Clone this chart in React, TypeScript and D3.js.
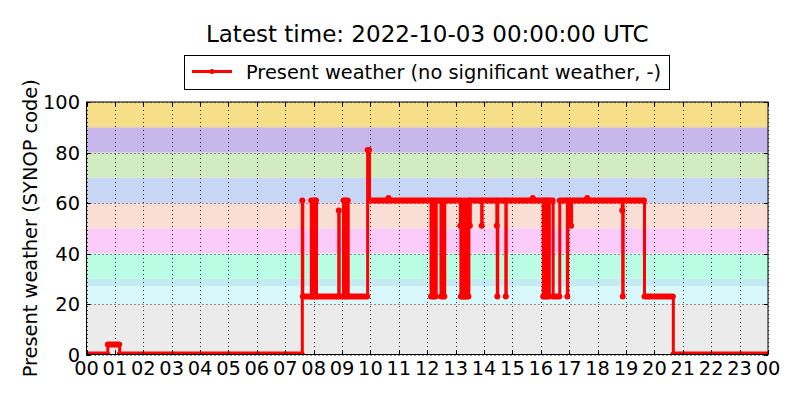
import React, { useEffect, useRef } from 'react';
import * as d3 from 'd3';

const TITLE = 'Latest time: 2022-10-03 00:00:00 UTC';
const SERIES_LABEL = 'Present weather (no significant weather, -)';
const Y_LABEL = 'Present weather (SYNOP code)';
const DAY_START = '2022-10-02T00:00:00Z';
const DAY_END = '2022-10-03T00:00:00Z';

// observed code changes (UTC), each code is held until the next entry
const obsTimes = [
  '00:00', '00:45', '01:10',
  '07:36', '07:37',
  '07:55', '07:56', '07:59', '08:00', '08:02', '08:04', '08:05', '08:06',
  '08:53', '08:54',
  '09:03', '09:05', '09:07', '09:09', '09:11', '09:13',
  '09:54', '09:58',
  '10:38', '10:39',
  '12:08', '12:10', '12:12', '12:14', '12:16', '12:19',
  '12:29', '12:32', '12:34', '12:37',
  '13:10', '13:11', '13:13', '13:14', '13:16', '13:17', '13:19', '13:20',
  '13:22', '13:23', '13:25', '13:26', '13:28', '13:29', '13:30', '13:31',
  '13:55', '13:56',
  '14:27', '14:28', '14:29',
  '14:46', '14:47',
  '15:43', '15:44',
  '16:05', '16:07', '16:08', '16:10', '16:13', '16:15', '16:16', '16:18',
  '16:26', '16:40',
  '16:56', '16:57', '17:03', '17:05',
  '17:38', '17:39',
  '18:52', '18:53', '18:54',
  '19:39', '20:40',
];
const obsCodes = [
  0, 4, 0,
  61, 23,
  61, 23, 61, 23, 61, 23, 61, 23,
  57, 23,
  61, 23, 61, 23, 61, 23,
  81, 61,
  62, 61,
  23, 61, 23, 61, 23, 61,
  23, 61, 23, 61,
  51, 23, 61, 23, 51, 23, 61, 23,
  51, 23, 61, 23, 51, 61, 51, 61,
  51, 61,
  51, 23, 61,
  23, 61,
  62, 61,
  23, 61, 23, 61, 23, 61, 23, 61,
  23, 61,
  23, 61, 51, 61,
  62, 61,
  57, 23, 61,
  23, 0,
];

// background bands of the SYNOP code groups
const bandLimits = [0, 20, 27, 30, 40, 50, 60, 70, 80, 90, 100];
const bandColors = [
  '#ebebeb', '#d9f8fc', '#c4ebf1', '#bafde4', '#facbf9',
  '#f8ded4', '#c8d6f5', '#d3ebc0', '#c8b7eb', '#f7de89',
];

const yTicks = [0, 20, 40, 60, 80, 100];

const W = 800;
const H = 400;
const FONT = '"DejaVu Sans", sans-serif';

const App: React.FC = () => {
  const svgRef = useRef<SVGSVGElement>(null);

  useEffect(() => {
    if (!svgRef.current) return;
    const svg = d3.select(svgRef.current);
    svg.selectAll('*').remove();

    const left = 86.5;
    const right = 768;
    const top = 102;
    const bottom = 354.5;

    const start = new Date(DAY_START);
    const end = new Date(DAY_END);
    const x = d3.scaleUtc().domain([start, end]).range([left, right]);
    const y = d3.scaleLinear().domain([0, 100]).range([bottom, top]);

    const toDate = (t: string) => new Date(`2022-10-02T${t}:00Z`);
    const points: [Date, number][] = obsTimes.map((t, i) => [toDate(t), obsCodes[i]]);
    const withEnd: [Date, number][] = [...points, [end, obsCodes[obsCodes.length - 1]]];

    svg.append('defs')
      .append('clipPath')
      .attr('id', 'plot-clip')
      .append('rect')
      .attr('x', left)
      .attr('y', top)
      .attr('width', right - left)
      .attr('height', bottom - top);

    // bands
    svg.append('g')
      .selectAll('rect')
      .data(bandColors)
      .enter()
      .append('rect')
      .attr('x', left)
      .attr('width', right - left)
      .attr('y', (_, i) => y(bandLimits[i + 1]))
      .attr('height', (_, i) => y(bandLimits[i]) - y(bandLimits[i + 1]))
      .attr('fill', d => d);

    // grid
    const hours = d3.utcHour.range(start, new Date(end.getTime() + 1));
    const grid = svg.append('g')
      .attr('stroke', '#000')
      .attr('stroke-width', 0.8)
      .attr('stroke-dasharray', '1,3');
    grid.selectAll('line.v')
      .data(hours)
      .enter()
      .append('line')
      .attr('class', 'v')
      .attr('x1', d => Math.round(x(d)) + 0.5)
      .attr('x2', d => Math.round(x(d)) + 0.5)
      .attr('y1', top)
      .attr('y2', bottom);
    grid.selectAll('line.h')
      .data(yTicks)
      .enter()
      .append('line')
      .attr('class', 'h')
      .attr('x1', left)
      .attr('x2', right)
      .attr('y1', d => Math.round(y(d)) + 0.5)
      .attr('y2', d => Math.round(y(d)) + 0.5);

    // series
    const plot = svg.append('g').attr('clip-path', 'url(#plot-clip)');
    const line = d3.line<[Date, number]>()
      .curve(d3.curveStepAfter)
      .x(d => x(d[0]))
      .y(d => y(d[1]));
    plot.append('path')
      .datum(withEnd)
      .attr('d', line)
      .attr('fill', 'none')
      .attr('stroke', '#ff0000')
      .attr('stroke-width', 3);
    // dense minute markers along each held code
    plot.selectAll('line.hold')
      .data(points)
      .enter()
      .append('line')
      .attr('class', 'hold')
      .attr('x1', d => x(d[0]))
      .attr('x2', (_, i) => Math.max(x(d3.utcMinute.offset(withEnd[i + 1][0], -1)), x(points[i][0])))
      .attr('y1', d => y(d[1]))
      .attr('y2', d => y(d[1]))
      .attr('stroke', '#ff0000')
      .attr('stroke-width', 6)
      .attr('stroke-linecap', 'round');

    // frame and ticks
    svg.append('rect')
      .attr('x', left)
      .attr('y', top)
      .attr('width', right - left)
      .attr('height', bottom - top)
      .attr('fill', 'none')
      .attr('stroke', '#000')
      .attr('stroke-width', 1);
    const ticks = svg.append('g').attr('stroke', '#000').attr('stroke-width', 1);
    hours.forEach(h => {
      const px = Math.round(x(h)) + 0.5;
      ticks.append('line').attr('x1', px).attr('x2', px).attr('y1', bottom).attr('y2', bottom - 4);
      ticks.append('line').attr('x1', px).attr('x2', px).attr('y1', top).attr('y2', top + 4);
    });
    yTicks.forEach(v => {
      const py = Math.round(y(v)) + 0.5;
      ticks.append('line').attr('x1', left).attr('x2', left + 4).attr('y1', py).attr('y2', py);
      ticks.append('line').attr('x1', right).attr('x2', right - 4).attr('y1', py).attr('y2', py);
    });

    // tick labels
    const fmt = d3.utcFormat('%H');
    svg.append('g')
      .selectAll('text')
      .data(hours)
      .enter()
      .append('text')
      .attr('x', d => x(d))
      .attr('y', bottom + 20.5)
      .attr('text-anchor', 'middle')
      .style('font-family', FONT)
      .style('font-size', '19.4px')
      .text(d => fmt(d));
    svg.append('g')
      .selectAll('text')
      .data(yTicks)
      .enter()
      .append('text')
      .attr('x', left - 6.5)
      .attr('y', d => y(d) + 7)
      .attr('text-anchor', 'end')
      .style('font-family', FONT)
      .style('font-size', '19.4px')
      .text(d => d);

    svg.append('text')
      .attr('transform', `translate(37,${(top + bottom) / 2}) rotate(-90)`)
      .attr('text-anchor', 'middle')
      .style('font-family', FONT)
      .style('font-size', '19.4px')
      .text(Y_LABEL);

    svg.append('text')
      .attr('x', (left + right) / 2)
      .attr('y', 42)
      .attr('text-anchor', 'middle')
      .style('font-family', FONT)
      .style('font-size', '23px')
      .text(TITLE);

    // legend
    const lg = svg.append('g');
    lg.append('rect')
      .attr('x', 184.5)
      .attr('y', 55.5)
      .attr('width', 485)
      .attr('height', 34)
      .attr('fill', '#fff')
      .attr('stroke', '#000')
      .attr('stroke-width', 1);
    lg.append('line')
      .attr('x1', 192)
      .attr('x2', 232)
      .attr('y1', 71.5)
      .attr('y2', 71.5)
      .attr('stroke', '#ff0000')
      .attr('stroke-width', 3);
    lg.append('circle')
      .attr('cx', 212)
      .attr('cy', 71.5)
      .attr('r', 2.5)
      .attr('fill', '#ff0000');
    lg.append('text')
      .attr('x', 246)
      .attr('y', 78.5)
      .style('font-family', FONT)
      .style('font-size', '19.4px')
      .text(SERIES_LABEL);
  }, []);

  return (
    <div style={{ position: 'fixed', left: 0, top: 0, width: W, height: H, background: '#fff' }}>
      <svg ref={svgRef} width={W} height={H} style={{ display: 'block' }}></svg>
    </div>
  );
};

export default App;
